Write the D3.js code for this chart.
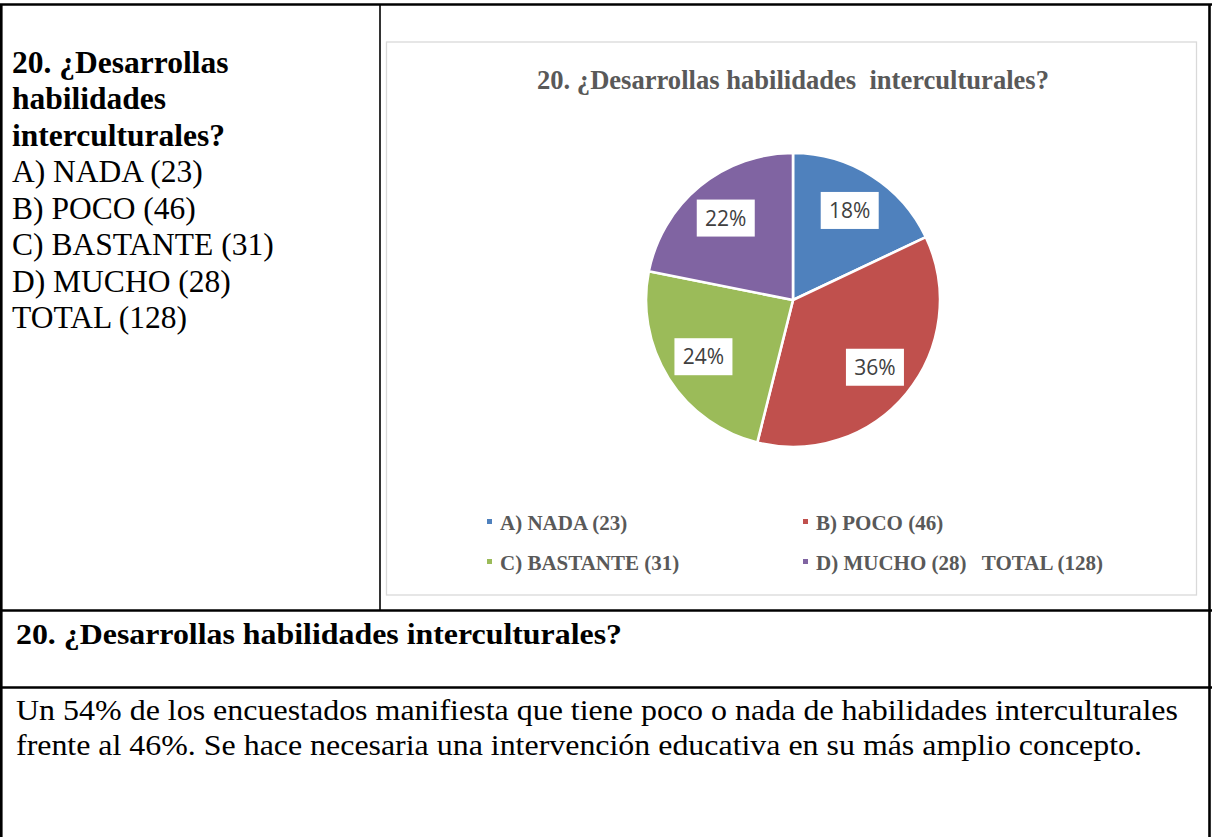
<!DOCTYPE html>
<html>
<head>
<meta charset="utf-8">
<script src="https://cdn.jsdelivr.net/npm/d3@7"></script>
<style>
body { margin: 0; background: #fff; }
svg { display: block; }
text { white-space: pre; }
</style>
</head>
<body>
<svg id="page" width="1212" height="837"></svg>
<script>
// datos del grafico
const categories = ["A) NADA (23)", "B) POCO (46)", "C) BASTANTE (31)", "D) MUCHO (28)   TOTAL (128)"];
const counts = [23, 46, 31, 28];
const colors = ["#4F81BD", "#C0504D", "#9BBB59", "#8064A2"];
const chartTitle = "20. ¿Desarrollas habilidades  interculturales?";
// textos de la tabla
const questionLines = ["20. ¿Desarrollas", "habilidades", "interculturales?"];
const answerLines = ["A) NADA (23)", "B) POCO (46)", "C) BASTANTE (31)", "D) MUCHO (28)", "TOTAL (128)"];
const heading = "20. ¿Desarrollas habilidades interculturales?";
const paragraph = [
	"Un 54% de los encuestados manifiesta que tiene poco o nada de habilidades interculturales",
	"frente al 46%. Se hace necesaria una intervención educativa en su más amplio concepto."
];

const svg = d3.select("#page");
const serif = "'Liberation Serif', 'Times New Roman', serif";

// tabla: bordes
const thick = [
	[0, 4.5, 1212, 4.5],
	[1.3, 4, 1.3, 837],
	[1209.5, 4, 1209.5, 837],
	[0, 610.5, 1212, 610.5],
	[0, 687.5, 1212, 687.5]
];
svg.selectAll(".border")
	.data(thick)
	.enter()
	.append("line")
	.attr("x1", d => d[0]).attr("y1", d => d[1])
	.attr("x2", d => d[2]).attr("y2", d => d[3])
	.style("stroke", "#000")
	.style("stroke-width", 2.6);
svg.append("line")
	.attr("x1", 380).attr("y1", 4).attr("x2", 380).attr("y2", 610)
	.style("stroke", "#000").style("stroke-width", 1.6);

// celda izquierda
const left = svg.append("g").style("font-family", serif).style("font-size", "31.5px").style("fill", "#000");
const allLines = questionLines.map(t => ({t, bold: true})).concat(answerLines.map(t => ({t, bold: false})));
left.selectAll("text")
	.data(allLines)
	.enter()
	.append("text")
	.attr("x", 12)
	.attr("y", (d, i) => 72.7 + i * 36.5)
	.style("font-weight", d => d.bold ? "bold" : "normal")
	.text(d => d.t);

// titulo inferior y parrafo
svg.append("text")
	.attr("x", 16).attr("y", 644)
	.attr("textLength", 606).attr("lengthAdjust", "spacingAndGlyphs")
	.style("font-family", serif).style("font-size", "30px").style("font-weight", "bold")
	.text(heading);
const parLen = [1162, 1126];
svg.selectAll(".par")
	.data(paragraph)
	.enter()
	.append("text")
	.attr("x", 16)
	.attr("y", (d, i) => 720 + i * 35)
	.attr("textLength", (d, i) => parLen[i]).attr("lengthAdjust", "spacingAndGlyphs")
	.style("font-family", serif).style("font-size", "30px")
	.text(d => d);

// area del grafico
const box = {x: 386.5, y: 42, w: 810, h: 553};
svg.append("rect")
	.attr("x", box.x).attr("y", box.y)
	.attr("width", box.w).attr("height", box.h)
	.style("fill", "#fff")
	.style("stroke", "#D9D9D9")
	.style("stroke-width", 1.3);

svg.append("text")
	.attr("x", 537).attr("y", 89)
	.attr("textLength", 512).attr("lengthAdjust", "spacingAndGlyphs")
	.style("font-family", serif).style("font-size", "26.5px").style("font-weight", "bold")
	.style("fill", "#595959")
	.text(chartTitle);

// pastel
const total = d3.sum(counts);
const cx = 793, cy = 300, r = 147;
const pie = d3.pie().sort(null).value(d => d);
const arc = d3.arc().innerRadius(0).outerRadius(r);
const labelArc = d3.arc().innerRadius(106).outerRadius(106);
const pieG = svg.append("g").attr("transform", `translate(${cx},${cy})`);
const slices = pie(counts);
pieG.selectAll("path")
	.data(slices)
	.enter()
	.append("path")
	.attr("d", arc)
	.style("fill", (d, i) => colors[i])
	.style("stroke", "#fff")
	.style("stroke-width", 2.6)
	.style("stroke-linejoin", "round");

const fmt = d3.format(".0%");
const lab = pieG.selectAll(".lab")
	.data(slices)
	.enter()
	.append("g")
	.attr("transform", d => `translate(${labelArc.centroid(d)})`);
lab.append("rect")
	.attr("x", -29).attr("y", -18.5)
	.attr("width", 58).attr("height", 37)
	.style("fill", "#fff");
lab.append("text")
	.attr("text-anchor", "middle")
	.attr("dy", "0.36em")
	.style("font-family", "'Open Sans', sans-serif")
	.style("font-size", "21px")
	.style("fill", "#404040")
	.text(d => fmt(d.value / total));

// leyenda
const legX = [487, 803], legY = [519, 559];
const leg = svg.selectAll(".leg")
	.data(categories)
	.enter()
	.append("g")
	.attr("transform", (d, i) => `translate(${legX[i % 2]},${legY[Math.floor(i / 2)]})`);
leg.append("rect")
	.attr("width", 5).attr("height", 5)
	.style("fill", (d, i) => colors[i]);
leg.append("text")
	.attr("x", 13).attr("y", 10.7)
	.style("font-family", serif).style("font-size", "21px").style("font-weight", "bold")
	.style("fill", "#595959")
	.text(d => d);
</script>
</body>
</html>
